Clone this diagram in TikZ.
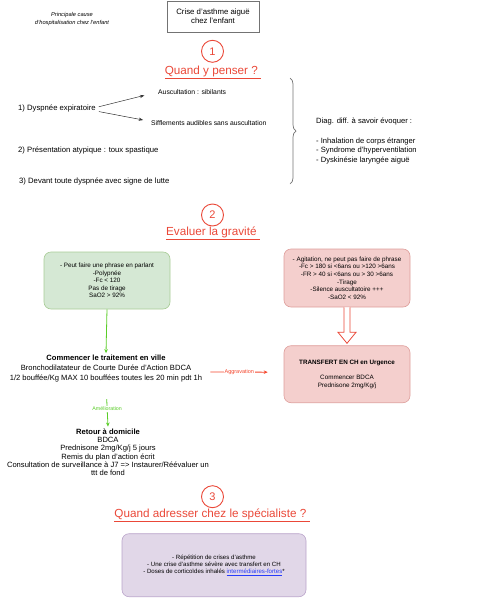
\documentclass[tikz,border=0pt]{standalone}
\usepackage{fontspec}
\setmainfont{Liberation Sans}
\usetikzlibrary{arrows.meta,calc,decorations.pathreplacing}
\definecolor{tred}{RGB}{234,72,56}
\definecolor{agred}{RGB}{245,70,45}
\definecolor{agreen}{RGB}{90,205,40}
\definecolor{gfill}{HTML}{D5E8D4}\definecolor{gline}{HTML}{A8CC96}
\definecolor{rfill}{HTML}{F4CFCD}\definecolor{rline}{HTML}{DE9E9B}
\definecolor{pfill}{HTML}{E1D7E8}\definecolor{pline}{HTML}{B9A3CA}
\definecolor{linkblue}{RGB}{40,60,250}
\newcommand{\fs}[2]{\fontsize{#1}{#2}\selectfont}
\tikzset{
  txt/.style={inner sep=0pt, text=black},
  numcirc/.style={circle, draw=tred, line width=0.9pt, minimum size=22pt, inner sep=0pt, text=tred, font=\fs{11}{13}},
  sectitle/.style={inner sep=0pt, text=tred, font=\fs{11.7}{14}},
  rbox/.style={rounded corners=7pt, line width=0.6pt, inner sep=0pt, align=center, font=\fs{6.3}{7.6}},
  garrow/.style={draw=agreen, line width=0.8pt, -{Stealth[length=4pt,width=3.5pt]}},
  darrow/.style={draw=black!80, line width=0.5pt, -{Stealth[length=4.5pt,width=3.2pt]}},
}
\begin{document}
\begin{tikzpicture}[x=1pt,y=-1pt]
\useasboundingbox (0,0) rectangle (487,600);
% header
\node[txt, align=center, font=\fs{5.7}{8}\itshape] (cause) at (72,19.3) {Principale cause\\d'hospitalisation chez l'enfant};
\node[draw=black!55, line width=0.7pt, minimum width=92pt, minimum height=31pt, inner sep=0pt, align=center, font=\fs{7.8}{9.3}] (crise) at (213,16.5) {Crise d'asthme aiguë\\chez l'enfant};
% section 1
\node[numcirc] (n1) at (212.5,51.3) {1};
\node[sectitle] (t1) at (213,72) {\underline{Quand y penser ?\ }};
\node[txt, anchor=west, font=\fs{7.7}{9}] (dysp) at (18,108) {1) Dyspnée expiratoire};
\node[txt, anchor=west, font=\fs{6.8}{8}] (ausc) at (158,92) {Auscultation : sibilants};
\node[txt, anchor=west, font=\fs{6.8}{8}] (siffl) at (151,123) {Sifflements audibles sans auscultation};
\node[txt, anchor=west, font=\fs{7.7}{9}] (atyp) at (18,150) {2) Présentation atypique : toux spastique};
\node[txt, anchor=west, font=\fs{7.7}{9}] (lutte) at (19,181) {3) Devant toute dyspnée avec signe de lutte};
\draw[darrow, shorten <=3pt, shorten >=14pt] ([yshift=0.5pt]dysp.east) -- (ausc.west);
\draw[darrow, shorten <=3pt, shorten >=8pt] ([yshift=-3pt]dysp.east) -- ([yshift=1.5pt]siffl.west);
\draw[black!55, line width=0.7pt, decorate, decoration={brace, amplitude=6pt, aspect=0.5}] (290,78) -- (290,184);
\node[txt, anchor=north west, align=left, font=\fs{7.6}{9.7}] (diag) at (316,118) {Diag. diff. à savoir évoquer :\\[9.7pt]- Inhalation de corps étranger\\- Syndrome d'hyperventilation\\- Dyskinésie laryngée aiguë};
% section 2
\node[numcirc] (n2) at (212.5,215) {2};
\node[sectitle] (t2) at (213,233) {\underline{Evaluer la gravité\ }};
\node[rbox, draw=gline, fill=gfill, minimum width=126pt, minimum height=57pt] (green) at (107,280.5)
  {- Peut faire une phrase en parlant\\-Polypnée\\-Fc < 120\\Pas de tirage\\SaO2 > 92\%};
\node[rbox, draw=rline, fill=rfill, minimum width=126pt, minimum height=58pt] (red) at (347,278)
  {- Agitation, ne peut pas faire de phrase\\-Fc > 180 si <6ans ou >120 >6ans\\-FR > 40 si <6ans ou > 30 >6ans\\-Tirage\\-Silence auscultatoire +++\\-SaO2 < 92\%};
\node[rbox, draw=rline, fill=rfill, minimum width=126pt, minimum height=57pt, font=\fs{6.3}{7.5}] (transf) at (347,374.2)
  {\textbf{TRANSFERT EN CH en Urgence}\\[7.5pt]Commencer BDCA\\Prednisone 2mg/Kg/j};
\node[txt, align=center, font=\fs{7.6}{9.8}, inner sep=2pt] (comm) at (106,368.7)
  {\textbf{Commencer le traitement en ville}\\Bronchodilatateur de Courte Durée d'Action BDCA\\1/2 bouffée/Kg MAX 10 bouffées toutes les 20 min pdt 1h};
\node[txt, align=center, font=\fs{7.6}{8.3}, inner sep=2pt] (retour) at (108,452.3)
  {\textbf{Retour à domicile}\\BDCA\\Prednisone 2mg/Kg/j 5 jours\\Remis du plan d'action écrit\\Consultation de surveillance à J7 => Instaurer/Réévaluer un\\ttt de fond};
\draw[garrow] (green.south) -- (comm.north);
\draw[garrow, shorten <=15pt] (comm.south) -- node[fill=white, inner sep=1pt, text=agreen, font=\fs{5.3}{6}, pos=0.58] (amel) {Amélioration} (retour.north);
\draw[draw=agred, line width=0.8pt, -{Stealth[length=4pt,width=3.5pt]}, shorten <=6pt, shorten >=16pt] ([yshift=-3.3pt]comm.east) -- node[fill=white, inner sep=0.8pt, text=agred, font=\fs{5.5}{6}, pos=0.44] (aggr) {Aggravation} ([yshift=2pt]transf.west);
\draw[draw=tred, line width=0.8pt, fill=white, line join=miter]
  ($(red.south)+(-3,0)$) -- ($(red.south)+(-3,25)$) -- ($(red.south)+(-9,25)$) -- ($(red.south)+(0,36)$)
  -- ($(red.south)+(9,25)$) -- ($(red.south)+(3,25)$) -- ($(red.south)+(3,0)$);
% section 3
\node[numcirc] (n3) at (212.5,496.7) {3};
\node[sectitle] (t3) at (212,515) {\underline{Quand adresser chez le spécialiste ?\ }};
\node[rbox, draw=pline, fill=pfill, minimum width=184pt, minimum height=63pt, font=\fs{6.1}{7.2}] (purple) at (214,565.2)
  {- Répétition de crises d'asthme\\- Une crise d'asthme sévère avec transfert en CH\\- Doses de corticoïdes inhalés \textcolor{linkblue}{\underline{intermédiaires-fortes}}*};
\end{tikzpicture}
\end{document}
